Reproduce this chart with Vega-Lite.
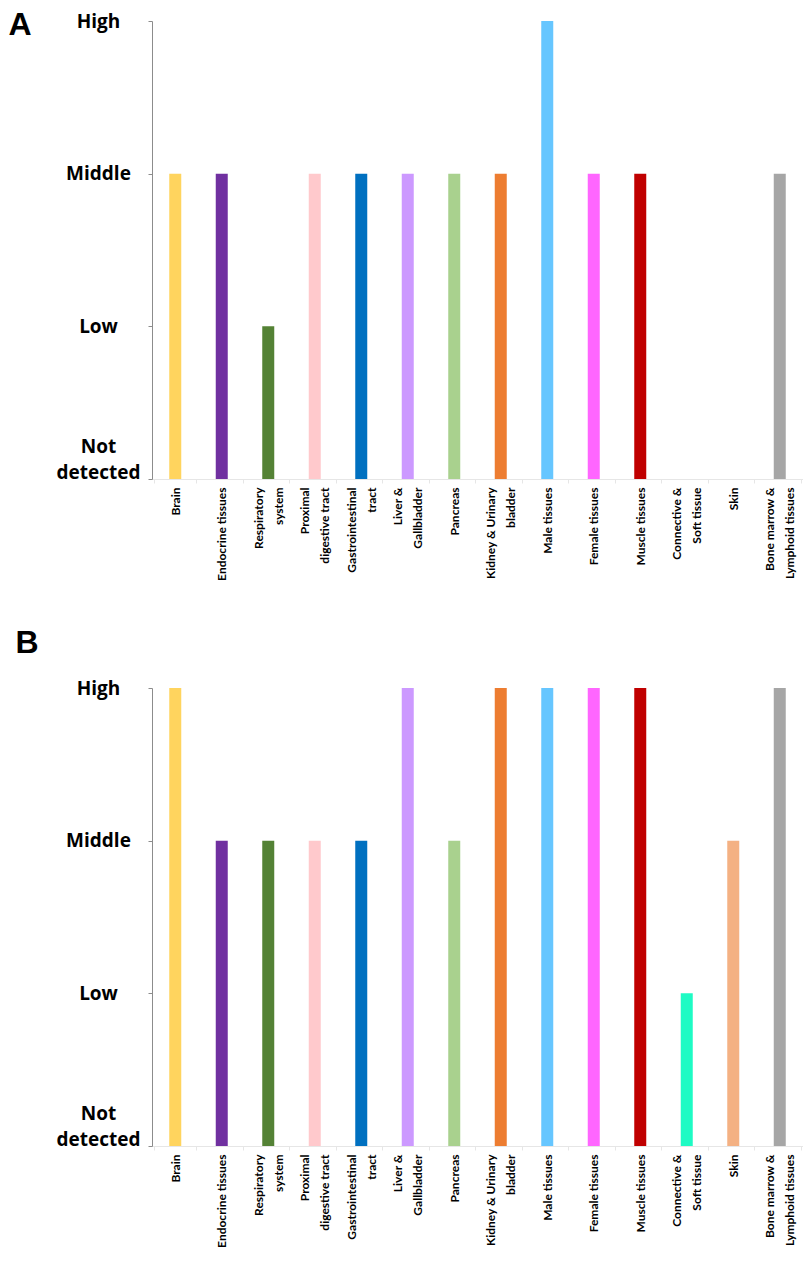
{
  "$schema": "https://vega.github.io/schema/vega-lite/v6.json",
  "padding": {"left": 8, "top": 8, "right": 0, "bottom": 0},
  "background": "white",
  "spacing": 45,
  "datasets": {
    "expr": [
      {"panel": "A", "tissue": "Brain", "level": 2},
      {"panel": "A", "tissue": "Endocrine tissues", "level": 2},
      {"panel": "A", "tissue": "Respiratory system", "level": 1},
      {"panel": "A", "tissue": "Proximal digestive tract", "level": 2},
      {"panel": "A", "tissue": "Gastrointestinal tract", "level": 2},
      {"panel": "A", "tissue": "Liver & Gallbladder", "level": 2},
      {"panel": "A", "tissue": "Pancreas", "level": 2},
      {"panel": "A", "tissue": "Kidney & Urinary bladder", "level": 2},
      {"panel": "A", "tissue": "Male tissues", "level": 3},
      {"panel": "A", "tissue": "Female tissues", "level": 2},
      {"panel": "A", "tissue": "Muscle tissues", "level": 2},
      {"panel": "A", "tissue": "Connective & Soft tissue", "level": 0},
      {"panel": "A", "tissue": "Skin", "level": 0},
      {"panel": "A", "tissue": "Bone marrow & Lymphoid tissues", "level": 2},
      {"panel": "B", "tissue": "Brain", "level": 3},
      {"panel": "B", "tissue": "Endocrine tissues", "level": 2},
      {"panel": "B", "tissue": "Respiratory system", "level": 2},
      {"panel": "B", "tissue": "Proximal digestive tract", "level": 2},
      {"panel": "B", "tissue": "Gastrointestinal tract", "level": 2},
      {"panel": "B", "tissue": "Liver & Gallbladder", "level": 3},
      {"panel": "B", "tissue": "Pancreas", "level": 2},
      {"panel": "B", "tissue": "Kidney & Urinary bladder", "level": 3},
      {"panel": "B", "tissue": "Male tissues", "level": 3},
      {"panel": "B", "tissue": "Female tissues", "level": 3},
      {"panel": "B", "tissue": "Muscle tissues", "level": 3},
      {"panel": "B", "tissue": "Connective & Soft tissue", "level": 1},
      {"panel": "B", "tissue": "Skin", "level": 2},
      {"panel": "B", "tissue": "Bone marrow & Lymphoid tissues", "level": 3}
    ]
  },
  "vconcat": [
    {
      "data": {"name": "expr"},
      "transform": [{"filter": "datum.panel == 'A'"}],
      "width": 651,
      "height": 458,
      "mark": {"type": "bar", "size": 12},
      "encoding": {
        "x": {"field": "tissue", "type": "nominal", "sort": null, "title": null,
          "scale": {"domain": ["Brain", "Endocrine tissues", "Respiratory system", "Proximal digestive tract", "Gastrointestinal tract", "Liver & Gallbladder", "Pancreas", "Kidney & Urinary bladder", "Male tissues", "Female tissues", "Muscle tissues", "Connective & Soft tissue", "Skin", "Bone marrow & Lymphoid tissues"]}},
        "y": {"field": "level", "type": "quantitative", "title": "A", "scale": {"domain": [0, 3], "nice": false},
          "axis": {"values": [0, 1, 2, 3], "titleX": -144, "titleY": 13}},
        "color": {"field": "tissue", "type": "nominal", "legend": null,
          "scale": {"domain": ["Brain", "Endocrine tissues", "Respiratory system", "Proximal digestive tract", "Gastrointestinal tract", "Liver & Gallbladder", "Pancreas", "Kidney & Urinary bladder", "Male tissues", "Female tissues", "Muscle tissues", "Connective & Soft tissue", "Skin", "Bone marrow & Lymphoid tissues"],
            "range": ["#FFD45E", "#7030A0", "#548235", "#FFC9CC", "#0070C0", "#CC99FF", "#A9D18E", "#ED7D31", "#66C6FF", "#FF66FF", "#C00000", "#1EFBC4", "#F4B183", "#A6A6A6"]}}
      }
    },
    {
      "data": {"name": "expr"},
      "transform": [{"filter": "datum.panel == 'B'"}],
      "width": 651,
      "height": 458,
      "mark": {"type": "bar", "size": 12},
      "encoding": {
        "x": {"field": "tissue", "type": "nominal", "sort": null, "title": null,
          "scale": {"domain": ["Brain", "Endocrine tissues", "Respiratory system", "Proximal digestive tract", "Gastrointestinal tract", "Liver & Gallbladder", "Pancreas", "Kidney & Urinary bladder", "Male tissues", "Female tissues", "Muscle tissues", "Connective & Soft tissue", "Skin", "Bone marrow & Lymphoid tissues"]}},
        "y": {"field": "level", "type": "quantitative", "title": "B", "scale": {"domain": [0, 3], "nice": false},
          "axis": {"values": [0, 1, 2, 3], "titleX": -137, "titleY": -36}},
        "color": {"field": "tissue", "type": "nominal", "legend": null,
          "scale": {"domain": ["Brain", "Endocrine tissues", "Respiratory system", "Proximal digestive tract", "Gastrointestinal tract", "Liver & Gallbladder", "Pancreas", "Kidney & Urinary bladder", "Male tissues", "Female tissues", "Muscle tissues", "Connective & Soft tissue", "Skin", "Bone marrow & Lymphoid tissues"],
            "range": ["#FFD45E", "#7030A0", "#548235", "#FFC9CC", "#0070C0", "#CC99FF", "#A9D18E", "#ED7D31", "#66C6FF", "#FF66FF", "#C00000", "#1EFBC4", "#F4B183", "#A6A6A6"]}}
      }
    }
  ],
  "resolve": {"scale": {"x": "independent", "y": "independent", "color": "independent"}},
  "config": {
    "view": {"stroke": null},
    "axisX": {
      "labelAngle": -90, "labelAlign": "right", "labelBaseline": "middle",
      "labelFont": "Lato", "labelFontWeight": "bold", "labelFontSize": 12, "labelColor": "#000000",
      "labelLineHeight": 20, "labelPadding": 4, "tickBand": "extent", "tickSize": 4,
      "labelOffset": {"condition": {"test": "indexof(['Respiratory system', 'Proximal digestive tract', 'Gastrointestinal tract', 'Liver & Gallbladder', 'Kidney & Urinary bladder', 'Connective & Soft tissue', 'Bone marrow & Lymphoid tissues'], datum.value) >= 0", "value": -10}, "value": 0},
      "domainColor": "#E6E6E6", "tickColor": "#E6E6E6", "labelOverlap": false, "labelLimit": 0,
      "labelExpr": "({'Respiratory system': ['Respiratory', 'system'], 'Proximal digestive tract': ['Proximal', 'digestive tract'], 'Gastrointestinal tract': ['Gastrointestinal', 'tract'], 'Liver & Gallbladder': ['Liver &', 'Gallbladder'], 'Kidney & Urinary bladder': ['Kidney & Urinary', 'bladder'], 'Connective & Soft tissue': ['Connective &', 'Soft tissue'], 'Bone marrow & Lymphoid tissues': ['Bone marrow &', 'Lymphoid tissues']})[datum.label] || datum.label"
    },
    "axisY": {
      "grid": false,
      "labelFont": "Open Sans", "labelFontWeight": "bold", "labelFontSize": 19, "labelColor": "#000000",
      "labelAlign": "center", "labelBaseline": "middle", "labelPadding": 50, "tickSize": 4, "labelLineHeight": 26,
      "labelOffset": {"condition": {"test": "datum.value == 0", "value": -33}, "value": 0},
      "domainColor": "#8C8C8C", "tickColor": "#8C8C8C",
      "titleAngle": 0, "titleAlign": "left", "titleBaseline": "alphabetic",
      "titleFont": "Liberation Sans", "titleFontSize": 32, "titleFontWeight": "bold", "titleColor": "#000000",
      "labelExpr": "datum.value == 3 ? 'High' : datum.value == 2 ? 'Middle' : datum.value == 1 ? 'Low' : ['Not', 'detected']"
    }
  }
}
